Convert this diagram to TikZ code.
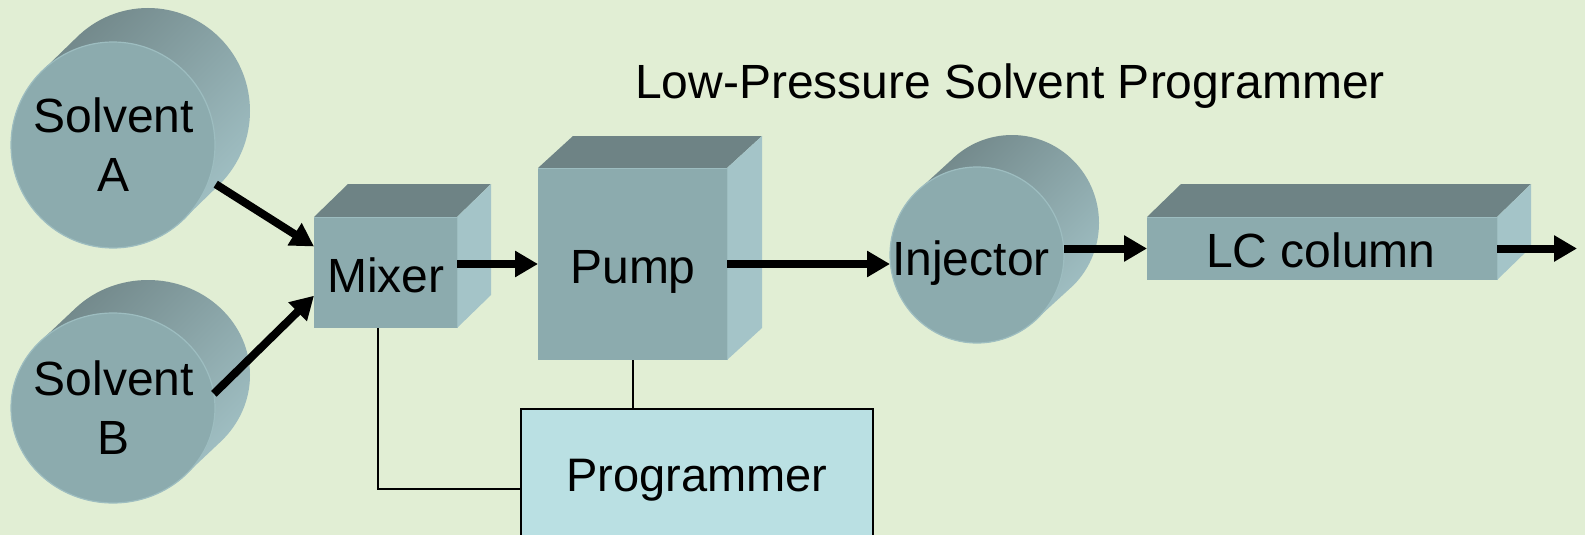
\documentclass[tikz,border=0pt]{standalone}
\usepackage{fontspec}
\setmainfont{Liberation Sans}
\usetikzlibrary{arrows.meta,calc,shapes.geometric}
\definecolor{bg}{HTML}{E1EED4}
\definecolor{face}{HTML}{8CABAE}
\definecolor{topc}{HTML}{6E8385}
\definecolor{sidec}{HTML}{A4C4C8}
\definecolor{rim}{HTML}{9DBDC0}
\definecolor{progc}{HTML}{BAE0E3}
\newcommand\mycyl[5]{%
  \coordinate (#1c) at #2;
  \coordinate (#1b) at ($(#1c)+#5$);
  \shade[top color=topc, bottom color=sidec, shading angle=45]
    ($(#1b)+(135:#3 and #4)$) arc[start angle=135,end angle=-45,x radius=#3,y radius=#4]
    -- ($(#1c)+(-45:#3 and #4)$) arc[start angle=-45,end angle=-225,x radius=#3,y radius=#4] -- cycle;
  \node[cylface, minimum width=2*#3 pt, minimum height=2*#4 pt] (#1) at (#1c) {};
}
\newcommand\myfaces[2]{%
  \fill[topc] (#1.north west) -- ++#2 -- ($(#1.north east)+#2$) -- (#1.north east) -- cycle;
  \fill[sidec] (#1.north east) -- ++#2 -- ($(#1.south east)+#2$) -- (#1.south east) -- cycle;
  \draw[rim, line width=1pt] (#1.north west) -- (#1.north east) -- (#1.south east);
}
\begin{document}
\begin{tikzpicture}[x=1pt,y=1pt,
  cylface/.style={ellipse, fill=face, draw=rim, line width=1.2pt, inner sep=0pt, outer sep=0pt},
  boxface/.style={rectangle, fill=face, inner sep=0pt, outer sep=0pt},
  lbl/.style={font=\fontsize{48}{59}\selectfont, text height=35pt, text depth=0pt, inner sep=0pt},
  mlbl/.style={font=\fontsize{48}{59}\selectfont, align=center, inner sep=0pt},
  arr/.style={line width=8pt, -{Triangle[length=23pt,width=25pt]}},
  wire/.style={line width=2pt, black}]
\fill[bg] (0,0) rectangle (1585,-535);
\useasboundingbox (0,0) rectangle (1585,-535);

% title
\node[font=\fontsize{48}{57}\selectfont, anchor=base, inner sep=0pt] (title) at (1010,-98) {Low-Pressure Solvent Programmer};

% solvent cylinders
\mycyl{sa}{(113,-145)}{102}{103}{(35,34)}
\node[mlbl] (saT) at (114,-145) {Solvent\\A};
\mycyl{sb}{(113,-408)}{102}{95}{(35,33)}
\node[mlbl] (sbT) at (114,-408) {Solvent\\B};

% programmer box
\node[rectangle, fill=progc, draw=black, line width=2pt, minimum width=352pt, minimum height=129pt, text height=35pt, text depth=0pt, inner sep=0pt, font=\fontsize{47}{56}\selectfont] (prog) at (697,-473.5) {Programmer};

% mixer
\node[boxface, minimum width=143pt, minimum height=111pt] (mixer) at (385.5,-272.5) {};
\myfaces{mixer}{(34,33)}
\node[lbl] (mixerT) at (386,-274.5) {Mixer};

% pump
\node[boxface, minimum width=189pt, minimum height=192pt] (pump) at (632.5,-264) {};
\myfaces{pump}{(35,32)}
\node[lbl] (pumpT) at (633,-265.5) {Pump};

% injector
\mycyl{inj}{(977,-255)}{87}{88}{(35,32)}
\node[lbl] (injT) at (971,-257.5) {Injector};

% LC column
\node[boxface, minimum width=350pt, minimum height=63pt] (lc) at (1322,-248.5) {};
\myfaces{lc}{(34,33)}
\node[lbl] (lcT) at (1321,-249.5) {LC column};

% wires
\draw[wire] (mixer.-98) |- (prog.185);
\draw[wire] (pump.south) -- (pump.south |- prog.north);

% arrows
\draw[arr, shorten <=8pt] (sa.-20) -- (mixer.160);
\draw[arr] (sb.8) -- (mixer.198);
\draw[arr] (mixer.east |- pump.west) -- (pump.west);
\draw[arr] (pump.east) -- (pump.east -| inj.west);
\draw[arr] (inj.east |- lc.west) -- (lc.west);
\coordinate (out) at (1577,-248.5);
\draw[arr] (lc.east) -- (out);
\end{tikzpicture}
\end{document}
